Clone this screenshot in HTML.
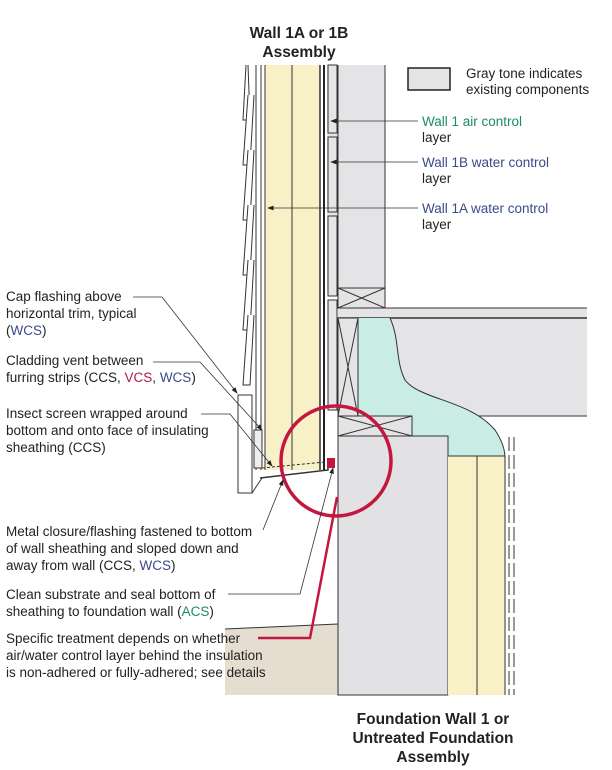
<!DOCTYPE html>
<html><head><meta charset="utf-8"><style>
html,body{margin:0;padding:0;background:#fff}
svg{display:block}
text{font-family:"Liberation Sans",Arial,sans-serif;font-size:13.5px;fill:#222}
.b{font-weight:bold;font-size:15.5px}
</style></head><body>
<svg width="612" height="770" viewBox="0 0 612 770" xmlns="http://www.w3.org/2000/svg">
<defs><marker id="ar" markerWidth="8" markerHeight="6" refX="7" refY="3" orient="auto"><path d="M0,0 L8,3 L0,6z" fill="#222"/></marker></defs>
<!-- ground -->
<polygon points="225,629 338,624 338,695 225,695" fill="#e4ddd0"/>
<line x1="225" y1="629" x2="338" y2="624" stroke="#333"/>
<!-- yellow ext insulation -->
<rect x="265" y="65" width="55" height="405" fill="#f8f1c8"/>
<line x1="265" y1="65" x2="265" y2="470" stroke="#333"/>
<line x1="292" y1="65" x2="292" y2="470" stroke="#333"/>
<line x1="320" y1="65" x2="320" y2="470" stroke="#333" stroke-width="1.5"/>
<line x1="324" y1="65" x2="324" y2="470" stroke="#222" stroke-width="2"/>
<!-- existing wall gray -->
<rect x="327" y="65" width="58" height="225" fill="#e4e4e6"/>
<line x1="338" y1="65" x2="338" y2="290" stroke="#333"/>
<line x1="385" y1="65" x2="385" y2="290" stroke="#333"/>
<g fill="#e6e6e8" stroke="#333">
<rect x="328" y="65" width="9" height="68"/><rect x="328" y="137" width="9" height="75"/><rect x="328" y="216" width="9" height="80"/><rect x="328" y="300" width="9" height="110"/>
</g>
<!-- plates -->
<rect x="338" y="288" width="47" height="20" fill="#e4e4e6" stroke="#333"/>
<path d="M338,288 L385,308 M385,288 L338,308" stroke="#333"/>
<!-- floor -->
<rect x="338" y="308" width="249" height="108" fill="#e4e4e6"/>
<line x1="338" y1="308" x2="587" y2="308" stroke="#333"/>
<line x1="338" y1="318" x2="587" y2="318" stroke="#333" stroke-width="1.5"/>
<line x1="338" y1="416" x2="587" y2="416" stroke="#333"/>
<!-- spray foam -->
<path d="M358,318 L390,318 C400,340 395,360 405,380 C420,400 470,400 495,430 C510,450 505,480 505,456 L505,458 L448,458 L448,436 L412,436 L412,416 L358,416 Z" fill="#c9ece4"/>
<path d="M390,318 C400,340 395,360 405,380 C420,400 470,400 495,430 C505,445 505,455 505,458" stroke="#333" fill="none"/>
<rect x="338" y="318" width="20" height="98" fill="#e4e4e6" stroke="#333"/>
<path d="M338,318 L358,416 M358,318 L338,416" stroke="#333"/>
<!-- sill -->
<rect x="338" y="416" width="74" height="20" fill="#e4e4e6" stroke="#333"/>
<path d="M338,416 L412,436 M412,416 L338,436" stroke="#333"/>
<!-- foundation -->
<rect x="338" y="436" width="110" height="259" fill="#e2e2e5" stroke="#333"/>
<rect x="448" y="456" width="57" height="239" fill="#f8f1c8"/>
<line x1="477" y1="456" x2="477" y2="695" stroke="#333"/>
<line x1="505" y1="456" x2="505" y2="695" stroke="#333"/>
<line x1="448" y1="456" x2="505" y2="456" stroke="#333"/>
<line x1="509" y1="437" x2="509" y2="695" stroke="#333" stroke-dasharray="14,4"/>
<line x1="514" y1="437" x2="514" y2="695" stroke="#333" stroke-dasharray="14,4"/>
<!-- siding -->
<g stroke="#333" fill="#fff">
<path d="M248,65 L250,120 L243,120 L246,65"/>
<path d="M254,95 L250,165 L243,165 L248,95"/>
<path d="M254,150 L250,220 L243,220 L248,150"/>
<path d="M254,205 L250,275 L243,275 L248,205"/>
<path d="M254,260 L250,330 L243,330 L248,260"/>
<path d="M254,315 L250,385 L243,385 L248,315"/>
</g>
<line x1="256" y1="65" x2="256" y2="470" stroke="#333"/>
<line x1="261" y1="65" x2="261" y2="470" stroke="#333"/>
<rect x="238" y="395" width="14" height="98" fill="#fff" stroke="#333"/>
<rect x="254" y="430" width="8" height="38" fill="#eee" stroke="#333"/>
<path d="M260,478 L328,470 L328,462" stroke="#333" fill="none" stroke-width="1.5"/>
<path d="M262,468 L325,462" stroke="#333" stroke-dasharray="3,2"/>
<path d="M252,493 L262,478" stroke="#333"/>
<!-- red circle -->
<circle cx="336" cy="461" r="55" fill="none" stroke="#c4173f" stroke-width="3.5"/>
<rect x="327" y="458" width="8" height="10" fill="#c4173f"/>
<polyline points="337,497 310,638 258,638" fill="none" stroke="#c4173f" stroke-width="2.5"/>
<!-- leader lines -->
<g stroke="#333" fill="none" stroke-width="0.8">
<polyline points="133,297 162,297 237,393" marker-end="url(#ar)"/>
<polyline points="153,362 200,362 262,430" marker-end="url(#ar)"/>
<polyline points="201,414 230,414 272,466" marker-end="url(#ar)"/>
<polyline points="263,530 283,480" marker-end="url(#ar)"/>
<polyline points="228,594 300,594 333,468" marker-end="url(#ar)"/>
<line x1="418" y1="121" x2="331" y2="121" marker-end="url(#ar)"/>
<line x1="418" y1="162" x2="331" y2="162" marker-end="url(#ar)"/>
<line x1="418" y1="208" x2="268" y2="208" marker-end="url(#ar)"/>
</g>
<!-- legend -->
<rect x="408" y="68" width="42" height="22" fill="#e4e4e6" stroke="#222" stroke-width="1.5"/>
<text x="466" y="78">Gray tone indicates</text>
<text x="466" y="94">existing components</text>
<text x="422" y="126" style="fill:#1e8a66">Wall 1 air control</text>
<text x="422" y="142">layer</text>
<text x="422" y="167" style="fill:#3a4a8a">Wall 1B water control</text>
<text x="422" y="183">layer</text>
<text x="422" y="213" style="fill:#3a4a8a">Wall 1A water control</text>
<text x="422" y="229">layer</text>
<text class="b" x="299" y="38" text-anchor="middle">Wall 1A or 1B</text>
<text class="b" x="299" y="57" text-anchor="middle">Assembly</text>
<text x="6" y="301">Cap flashing above</text>
<text x="6" y="318">horizontal trim, typical</text>
<text x="6" y="335">(<tspan style="fill:#3a4a8a">WCS</tspan>)</text>
<text x="6" y="365">Cladding vent between</text>
<text x="6" y="382">furring strips (CCS, <tspan style="fill:#b0184a">VCS</tspan>, <tspan style="fill:#3a4a8a">WCS</tspan>)</text>
<text x="6" y="418">Insect screen wrapped around</text>
<text x="6" y="435">bottom and onto face of insulating</text>
<text x="6" y="452">sheathing (CCS)</text>
<text x="6" y="536">Metal closure/flashing fastened to bottom</text>
<text x="6" y="553">of wall sheathing and sloped down and</text>
<text x="6" y="570">away from wall (CCS, <tspan style="fill:#3a4a8a">WCS</tspan>)</text>
<text x="6" y="599">Clean substrate and seal bottom of</text>
<text x="6" y="616">sheathing to foundation wall (<tspan style="fill:#1e8a66">ACS</tspan>)</text>
<text x="6" y="643">Specific treatment depends on whether</text>
<text x="6" y="660">air/water control layer behind the insulation</text>
<text x="6" y="677">is non-adhered or fully-adhered; see details</text>
<text class="b" x="433" y="724" text-anchor="middle">Foundation Wall 1 or</text>
<text class="b" x="433" y="743" text-anchor="middle">Untreated Foundation</text>
<text class="b" x="433" y="762" text-anchor="middle">Assembly</text>
</svg>
</body></html>
